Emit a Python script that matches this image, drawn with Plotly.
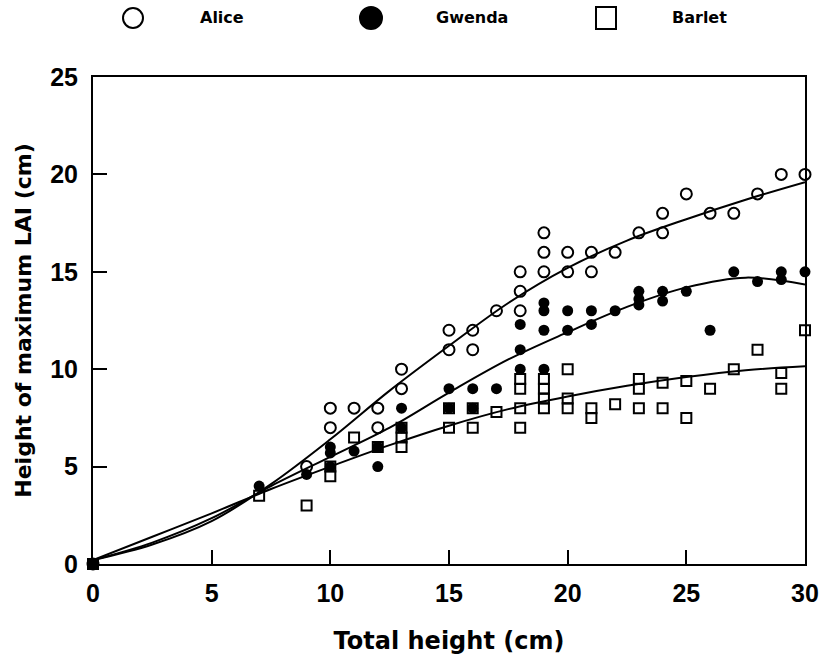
import plotly.graph_objects as go

# Measured points: total plant height (cm) vs height of maximum LAI (cm)
alice_x = [0, 9, 10, 10, 11, 12, 12, 13, 13, 15, 15, 16, 16, 17, 18, 18, 18,
           19, 19, 19, 20, 20, 21, 21, 22, 23, 24, 24, 25, 26, 27, 28, 29, 30]
alice_y = [0, 5, 8, 7, 8, 8, 7, 10, 9, 12, 11, 12, 11, 13, 15, 14, 13,
           17, 16, 15, 16, 15, 16, 15, 16, 17, 18, 17, 19, 18, 18, 19, 20, 20]

gwenda_x = [0, 7, 9, 10, 10, 10, 11, 12, 12, 13, 13, 15, 15, 16, 16, 17,
            18, 18, 18, 19, 19, 19, 19, 20, 20, 21, 21, 22, 23, 23, 23,
            24, 24, 25, 26, 27, 28, 29, 29, 30]
gwenda_y = [0, 4.0, 4.6, 6.0, 5.7, 5.0, 5.8, 6.0, 5.0, 8.0, 7.0, 9.0, 8.0, 9.0, 8.0, 9.0,
            12.3, 11.0, 10.0, 13.4, 13.0, 12.0, 10.0, 13.0, 12.0, 13.0, 12.3, 13.0, 14.0, 13.6, 13.3,
            14.0, 13.5, 14.0, 12.0, 15.0, 14.5, 15.0, 14.6, 15.0]

barlet_x = [0, 7, 9, 10, 10, 11, 12, 13, 13, 13, 15, 15, 16, 16, 17,
            18, 18, 18, 18, 19, 19, 19, 19, 20, 20, 20, 21, 21, 22,
            23, 23, 23, 24, 24, 25, 25, 26, 27, 28, 29, 29, 30]
barlet_y = [0, 3.5, 3.0, 5.0, 4.5, 6.5, 6.0, 7.0, 6.5, 6.0, 8.0, 7.0, 8.0, 7.0, 7.8,
            9.5, 9.0, 8.0, 7.0, 9.5, 9.0, 8.5, 8.0, 10.0, 8.5, 8.0, 8.0, 7.5, 8.2,
            9.5, 9.0, 8.0, 9.3, 8.0, 9.4, 7.5, 9.0, 10.0, 11.0, 9.8, 9.0, 12.0]

# Fitted response curves, sampled along total height
fit_x = [0, 2.5, 5, 7.5, 10, 12.5, 15, 17.5, 20, 22.5, 25, 27.5, 30]
alice_fit = [0.2, 1.0, 2.2, 4.1, 6.4, 8.9, 11.2, 13.4, 15.2, 16.6, 17.7, 18.7, 19.6]
gwenda_fit = [0.2, 1.1, 2.35, 4.0, 5.5, 7.0, 8.8, 10.5, 11.9, 13.2, 14.2, 14.7, 14.35]
barlet_fit = [0.2, 1.4, 2.6, 3.85, 5.0, 6.1, 7.1, 7.95, 8.6, 9.15, 9.6, 9.95, 10.15]

x_ticks = [0, 5, 10, 15, 20, 25, 30]
y_ticks = [0, 5, 10, 15, 20, 25]

FONT = "DejaVu Sans"
TICK_FONT = "Liberation Sans"
INK = "black"

fig = go.Figure()

for fy in (alice_fit, gwenda_fit, barlet_fit):
    fig.add_trace(go.Scatter(
        x=fit_x, y=fy, mode="lines", line=dict(color=INK, width=2, shape="spline", smoothing=1.0),
        showlegend=False, hoverinfo="skip", cliponaxis=False))

fig.add_trace(go.Scatter(
    x=barlet_x, y=barlet_y, mode="markers", name="Barlet",
    marker=dict(symbol="square-open", size=10, color=INK, line=dict(width=2, color=INK)),
    showlegend=False, cliponaxis=False))
fig.add_trace(go.Scatter(
    x=alice_x, y=alice_y, mode="markers", name="Alice",
    marker=dict(symbol="circle-open", size=11, color=INK, line=dict(width=2, color=INK)),
    showlegend=False, cliponaxis=False))
fig.add_trace(go.Scatter(
    x=gwenda_x, y=gwenda_y, mode="markers", name="Gwenda",
    marker=dict(symbol="circle", size=11, color=INK, line=dict(width=0)),
    showlegend=False, cliponaxis=False))

# Key row above the plot area
L, R, T, B = 93, 14, 77, 93
W, H = 819, 657
pw, ph = W - L - R, H - T - B


def px(xp):
    return (xp - L) / pw


def py(yp):
    return (H - B - yp) / ph


key_y = py(18)
key_items = [
    ("Alice", 133, "circle", "white", 20, 20, 198),
    ("Gwenda", 371, "circle", INK, 22, 22, 434),
    ("Barlet", 606, "rect", "white", 20, 22, 670),
]
for label, cx, kind, fill, w, h, tx in key_items:
    fig.add_shape(type=kind, xref="paper", yref="paper", xsizemode="pixel", ysizemode="pixel",
                  xanchor=px(cx), yanchor=key_y, x0=-w / 2, x1=w / 2, y0=-h / 2, y1=h / 2,
                  line=dict(color=INK, width=2), fillcolor=fill)
    fig.add_annotation(text=label, xref="paper", yref="paper", x=px(tx), y=key_y,
                       xanchor="left", yanchor="middle", showarrow=False,
                       font=dict(family=FONT, size=16, color=INK, weight="bold"))

axis_common = dict(
    ticks="inside", ticklen=14, tickwidth=2, tickcolor=INK,
    showline=True, linewidth=2, linecolor=INK, mirror=True,
    showgrid=False, zeroline=False, ticklabeloverflow="allow",
    tickfont=dict(family=TICK_FONT, size=25, color=INK, weight="bold"),
)

fig.update_xaxes(range=[0, 30], tickvals=x_ticks, ticktext=[str(v) for v in x_ticks],
                 title=dict(text="Total height (cm)", standoff=26,
                            font=dict(family=FONT, size=24, color=INK, weight="bold")),
                 ticklabelstandoff=6, **axis_common)
fig.update_yaxes(range=[0, 25], tickvals=y_ticks, ticktext=[str(v) for v in y_ticks],
                 title=dict(text="Height of maximum LAI (cm)", standoff=12,
                            font=dict(family=FONT, size=22, color=INK, weight="bold")),
                 ticklabelstandoff=8, **axis_common)

fig.update_layout(
    width=W, height=H,
    margin=dict(l=L, r=R, t=T, b=B, autoexpand=False),
    paper_bgcolor="white", plot_bgcolor="white",
    showlegend=False,
)

fig.write_html("out.html")
